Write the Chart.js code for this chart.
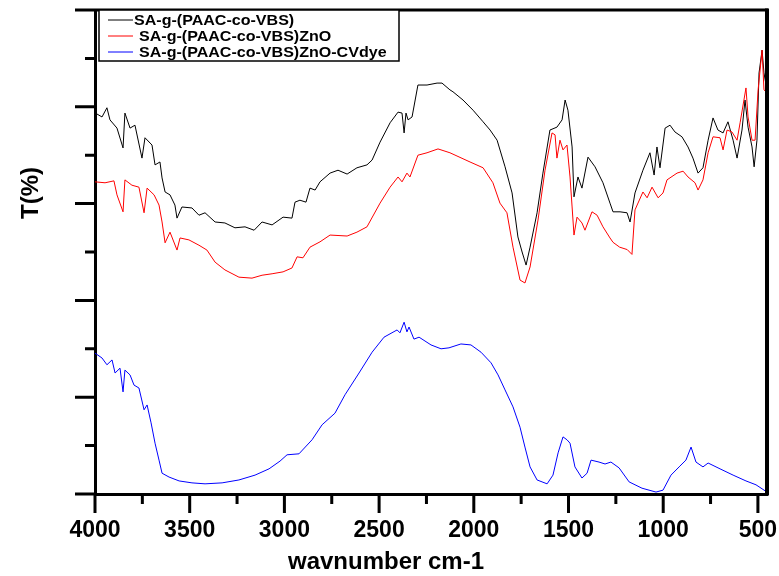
<!DOCTYPE html>
<html>
<head>
<meta charset="utf-8">
<script src="https://cdn.jsdelivr.net/npm/chart.js@4.4.1/dist/chart.umd.min.js"></script>
<style>
  html, body { margin: 0; padding: 0; background: #fff; }
  canvas { display: block; }
</style>
</head>
<body>
<canvas id="ftirChart" width="779" height="576"></canvas>
<script>
// FTIR spectra, transmittance (arbitrary offset units) vs wavenumber
const seriesLabels = [
  'SA-g-(PAAC-co-VBS)',
  'SA-g-(PAAC-co-VBS)ZnO',
  'SA-g-(PAAC-co-VBS)ZnO-CVdye'
];
const seriesColors = ['#000000', '#ff0000', '#0000ff'];
const xTickValues = [4000, 3500, 3000, 2500, 2000, 1500, 1000, 500];
const xTitle = 'wavnumber cm-1';
const yTitle = 'T(%)';

const blackWn = [3998,3963,3937,3921,3884,3852,3842,3815,3789,3752,3736,3699,3683,3657,3646,3630,3604,3578,3567,3541,
  3488,3451,3419,3366,3314,3261,3208,3160,3118,3065,3007,2960,2944,2918,2886,2865,2838,2812,2759,2717,
  2669,2617,2564,2537,2495,2442,2400,2379,2368,2358,2347,2326,2295,2247,2194,2168,2126,2110,2057,2004,
  1951,1914,1877,1835,1798,1767,1745,1724,1703,1666,1635,1598,1561,1534,1518,1503,1481,1471,1450,1429,
  1397,1360,1318,1281,1265,1228,1191,1175,1149,1107,1070,1048,1033,1017,990,964,938,901,869,843,
  816,790,763,737,711,684,658,631,610,584,568,552,531,520,505,494,478,468,457];
const blackT = [7.87,7.79,7.98,7.73,7.56,7.15,7.87,7.56,7.62,6.94,7.36,7.21,6.80,6.86,6.53,6.24,6.18,5.97,5.70,5.93,
  5.91,5.76,5.81,5.62,5.60,5.50,5.52,5.45,5.62,5.56,5.72,5.70,6.03,6.07,6.03,6.32,6.28,6.45,6.63,6.69,
  6.61,6.74,6.80,6.90,7.27,7.67,7.89,7.87,7.46,7.87,7.73,7.79,8.45,8.45,8.49,8.49,8.35,8.31,8.14,7.93,
  7.69,7.52,7.31,6.76,6.22,5.31,5.00,4.73,5.10,5.81,6.63,7.52,7.58,7.73,8.14,7.93,7.17,6.14,6.55,6.32,
  6.96,6.76,6.43,6.01,5.83,5.83,5.81,5.62,6.22,6.69,7.05,6.59,7.17,6.74,7.56,7.62,7.48,7.38,7.17,6.94,
  6.63,6.74,7.31,7.77,7.52,7.46,7.69,7.31,6.94,7.52,8.14,7.58,7.17,6.76,7.31,8.70,9.17,8.70,8.45];

const redWn = [4000,3947,3900,3884,3852,3842,3805,3768,3741,3725,3688,3662,3646,3630,3604,3567,3551,3504,3451,3409,
  3366,3314,3240,3171,3118,3065,3007,2960,2933,2902,2865,2812,2759,2669,2617,2564,2495,2442,2400,2379,
  2353,2337,2295,2247,2189,2126,2020,1951,1899,1862,1825,1793,1756,1730,1703,1661,1624,1587,1571,1561,
  1545,1529,1508,1492,1481,1471,1455,1429,1413,1376,1349,1318,1281,1265,1230,1190,1165,1149,1107,1085,
  1059,1027,1001,980,927,895,869,832,816,790,763,737,700,684,663,637,610,594,563,552,
  531,515,499,478,468,457];
const redT = [6.45,6.43,6.47,6.18,5.83,6.49,6.38,6.34,5.81,6.32,6.18,5.97,5.62,5.19,5.41,5.04,5.29,5.25,5.14,5.04,
  4.79,4.63,4.48,4.46,4.52,4.55,4.59,4.67,4.90,4.88,5.10,5.21,5.35,5.33,5.41,5.52,6.01,6.34,6.55,6.45,
  6.63,6.55,7.00,7.05,7.13,7.05,6.86,6.74,6.43,6.01,5.81,5.10,4.42,4.36,4.69,5.66,6.69,7.46,7.42,6.94,
  7.31,7.11,7.21,6.55,5.93,5.35,5.72,5.60,5.45,5.83,5.76,5.52,5.29,5.20,5.10,5.05,4.95,5.87,6.24,6.12,
  6.34,6.12,6.22,6.49,6.63,6.67,6.55,6.43,6.28,6.49,7.05,7.38,7.36,7.11,7.52,7.48,7.31,7.67,8.39,7.79,
  7.31,7.31,8.35,9.17,8.35,8.31];

const blueWn = [4000,3963,3937,3910,3894,3868,3852,3842,3815,3794,3768,3741,3725,3704,3683,3662,3646,3609,3556,3488,
  3419,3329,3240,3155,3081,3023,2986,2923,2854,2801,2733,2680,2606,2537,2474,2405,2390,2368,2353,2342,
  2316,2289,2226,2173,2131,2068,2015,1962,1909,1872,1835,1793,1756,1730,1703,1666,1613,1582,1555,1529,
  1508,1492,1466,1429,1402,1381,1339,1307,1276,1233,1180,1112,1038,1001,959,916,880,853,827,790,
  763,700,631,563,510,452];
const blueT = [2.91,2.81,2.67,2.77,2.50,2.60,2.11,2.56,2.46,2.25,2.19,1.74,1.84,1.47,1.05,0.70,0.43,0.35,0.27,0.23,
  0.21,0.23,0.29,0.39,0.52,0.68,0.81,0.83,1.12,1.43,1.67,2.05,2.50,2.93,3.24,3.39,3.33,3.55,3.35,3.45,
  3.20,3.24,3.08,3.00,3.02,3.10,3.08,2.93,2.71,2.46,2.15,1.80,1.38,0.97,0.56,0.29,0.21,0.39,0.85,1.18,
  1.12,1.05,0.56,0.33,0.43,0.70,0.66,0.62,0.66,0.54,0.25,0.12,0.04,0.08,0.39,0.56,0.70,0.97,0.66,0.56,
  0.64,0.52,0.39,0.27,0.19,0.04];

const FONT = "'Liberation Sans', Arial, sans-serif";

function toPoints(wn, t) {
  return wn.map((w, i) => ({ x: w, y: t[i] }));
}

// box frame, major/minor tick marks, axis titles and boxed legend
const decorations = {
  id: 'decorations',
  afterDraw(chart) {
    const { ctx, chartArea: a, scales: { x, y } } = chart;
    ctx.save();
    ctx.strokeStyle = '#000';
    ctx.lineCap = 'butt';

    ctx.lineWidth = 3;
    ctx.beginPath();
    ctx.moveTo(a.left, a.top);
    ctx.lineTo(a.right + 1, a.top);
    ctx.stroke();
    ctx.lineWidth = 4;
    ctx.beginPath();
    ctx.moveTo(a.right, a.top - 1.5);
    ctx.lineTo(a.right, a.bottom + 1.5);
    ctx.stroke();

    ctx.lineWidth = 3;
    ctx.beginPath();
    for (let v = y.min; v <= y.max; v++) {
      const py = y.getPixelForValue(v);
      const len = v % 2 === 0 ? 20 : 10;
      ctx.moveTo(a.left - len, py);
      ctx.lineTo(a.left, py);
    }
    for (let w = 4000; w >= x.min; w -= 250) {
      const px = x.getPixelForValue(w);
      const len = w % 500 === 0 ? 19 : 10;
      ctx.moveTo(px, a.bottom);
      ctx.lineTo(px, a.bottom + len);
    }
    ctx.stroke();

    ctx.fillStyle = '#000';
    ctx.textAlign = 'center';
    ctx.textBaseline = 'middle';

    // x axis title
    ctx.font = 'bold 24px ' + FONT;
    ctx.fillText(xTitle, 386, 562);

    // y axis title
    ctx.save();
    ctx.translate(31, 193);
    ctx.rotate(-Math.PI / 2);
    ctx.fillText(yTitle, 0, 0);
    ctx.restore();

    // legend
    const lx = 99, ly = 10, lw = 300, lh = 51;
    ctx.fillStyle = '#fff';
    ctx.fillRect(lx, ly, lw, lh);
    ctx.lineWidth = 1.5;
    ctx.strokeRect(lx, ly, lw, lh);
    ctx.font = 'bold 15px ' + FONT;
    ctx.textAlign = 'left';
    const rows = [20, 36, 52];
    const textX = [134, 139, 139];
    seriesLabels.forEach((label, i) => {
      ctx.strokeStyle = seriesColors[i];
      ctx.lineWidth = 1;
      ctx.beginPath();
      ctx.moveTo(108, rows[i]);
      ctx.lineTo(133, rows[i]);
      ctx.stroke();
      ctx.fillStyle = '#000';
      ctx.save();
      ctx.translate(textX[i], rows[i]);
      ctx.scale(1.07, 1);
      ctx.fillText(label, 0, 1);
      ctx.restore();
    });
    ctx.restore();
  }
};

new Chart(document.getElementById('ftirChart'), {
  type: 'line',
  data: {
    datasets: [
      { label: seriesLabels[0], data: toPoints(blackWn, blackT), borderColor: seriesColors[0], order: 2 },
      { label: seriesLabels[1], data: toPoints(redWn, redT), borderColor: seriesColors[1], order: 1 },
      { label: seriesLabels[2], data: toPoints(blueWn, blueT), borderColor: seriesColors[2], order: 0 }
    ]
  },
  options: {
    responsive: false,
    animation: false,
    layout: { padding: { left: 0, right: 12, top: 10, bottom: 0 } },
    elements: {
      line: { borderWidth: 1, tension: 0 },
      point: { radius: 0 }
    },
    plugins: { legend: { display: false }, tooltip: { enabled: false } },
    scales: {
      x: {
        type: 'linear',
        reverse: true,
        min: 452,
        max: 4000,
        grid: { display: false, drawTicks: false },
        border: { display: true, width: 3, color: '#000' },
        afterBuildTicks(scale) {
          scale.ticks = xTickValues.map(v => ({ value: v }));
        },
        ticks: {
          autoSkip: false,
          maxRotation: 0,
          padding: 23,
          color: '#000',
          font: { family: FONT, size: 23, weight: 'bold' },
          callback: v => String(v)
        },
        afterFit(scale) {
          scale.height = 82;
          scale.paddingLeft = 0;
          scale.paddingRight = 0;
        }
      },
      y: {
        min: 0,
        max: 10,
        grid: { display: false, drawTicks: false },
        border: { display: true, width: 3, color: '#000' },
        ticks: { display: false, stepSize: 1 },
        afterFit(scale) {
          scale.width = 95;
        }
      }
    }
  },
  plugins: [decorations]
});
</script>
</body>
</html>
